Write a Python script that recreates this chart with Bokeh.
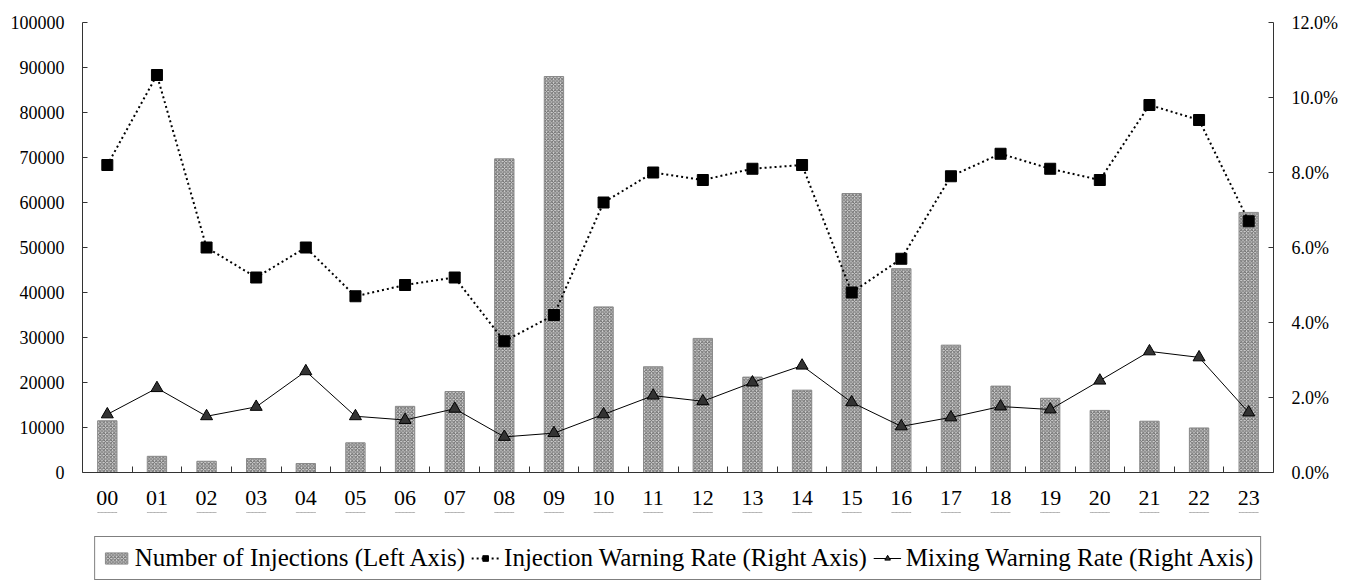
from bokeh.plotting import figure
from bokeh.layouts import column
from bokeh.models import (Range1d, LinearAxis, FixedTicker, NumeralTickFormatter,
                          Legend, LegendItem, ColumnDataSource)
from bokeh.embed import file_html
from bokeh.resources import INLINE

hours = ["00", "01", "02", "03", "04", "05", "06", "07", "08", "09", "10", "11",
         "12", "13", "14", "15", "16", "17", "18", "19", "20", "21", "22", "23"]
injections = [11500, 3600, 2500, 3100, 2000, 6600, 14700, 18000, 69700, 88000, 36800, 23500,
              29800, 21200, 18300, 62000, 45300, 28300, 19200, 16500, 13800, 11400, 9900, 57800]
injection_rate = [0.082, 0.106, 0.060, 0.052, 0.060, 0.047, 0.050, 0.052, 0.035, 0.042, 0.072, 0.080,
                  0.078, 0.081, 0.082, 0.048, 0.057, 0.079, 0.085, 0.081, 0.078, 0.098, 0.094, 0.067]
mixing_rate = [0.0155, 0.0225, 0.015, 0.0175, 0.027, 0.015, 0.014, 0.017, 0.0095, 0.0105, 0.0155, 0.0205,
               0.019, 0.024, 0.0285, 0.0187, 0.0123, 0.0147, 0.0176, 0.0168, 0.0245, 0.0323, 0.0307, 0.016]
left_ticks = list(range(0, 100001, 10000))
right_ticks = [0.0, 0.02, 0.04, 0.06, 0.08, 0.10, 0.12]
labels = ["Number of Injections (Left Axis)", "Injection Warning Rate (Right Axis)",
          "Mixing Warning Rate (Right Axis)"]

FONT = "Liberation Serif"
AX = "#333333"

x = list(range(len(hours)))
src = ColumnDataSource(dict(x=x, n=injections, inj=injection_rate, mix=mixing_rate))

p = figure(width=1355, height=512, output_backend="svg", toolbar_location=None,
           x_range=Range1d(-0.5, 23.5), y_range=Range1d(0, 100000),
           min_border_left=82, min_border_right=82, min_border_top=22, min_border_bottom=40)
p.outline_line_color = None
p.xgrid.grid_line_color = None
p.ygrid.grid_line_color = None
p.extra_y_ranges = {"rate": Range1d(0, 0.12)}

ya = p.yaxis[0]
ya.ticker = FixedTicker(ticks=left_ticks)
ya.formatter = NumeralTickFormatter(format="0")
xa = p.xaxis[0]
xa.ticker = FixedTicker(ticks=x, minor_ticks=[i + 0.5 for i in range(23)])
xa.major_label_overrides = {i: h for i, h in enumerate(hours)}
xa.major_tick_line_color = None
xa.minor_tick_in = 6
xa.minor_tick_out = 0
xa.minor_tick_line_color = AX
xa.major_label_standoff = 12
xa.major_label_text_font_size = "22px"

ra = LinearAxis(y_range_name="rate", ticker=FixedTicker(ticks=right_ticks),
                formatter=NumeralTickFormatter(format="0.0%"))
p.add_layout(ra, "right")

for ax in (ya, ra):
    ax.major_tick_in = 5
    ax.major_tick_out = 0
    ax.minor_tick_line_color = None
    ax.major_label_standoff = 18
    ax.major_label_text_font_size = "18px"
    ax.major_tick_line_color = AX
for ax in (xa, ya, ra):
    ax.axis_line_color = AX
    ax.major_label_text_font = FONT
    ax.major_label_text_color = "black"

BAR = dict(fill_color="#d6d6d6", line_color="#8a8a8a", line_width=1,
           hatch_pattern="diagonal_cross", hatch_color="#6a6a6a", hatch_scale=3.5, hatch_weight=1)
INJL = dict(line_color="black", line_width=2, line_dash="2 3")
INJP = dict(marker="square", size=11, fill_color="black", line_color="black")
MIXL = dict(line_color="black", line_width=1)
MIXP = dict(marker="triangle", size=12, fill_color="#333333", line_color="black")

p.vbar(x="x", top="n", width=0.39, source=src, **BAR)
p.line("x", "inj", source=src, y_range_name="rate", **INJL)
p.scatter("x", "inj", source=src, y_range_name="rate", **INJP)
p.line("x", "mix", source=src, y_range_name="rate", **MIXL)
p.scatter("x", "mix", source=src, y_range_name="rate", **MIXP)

# legend strip (its renderers' data lie outside its y range, so only the legend shows)
lg = figure(width=1355, height=72, output_backend="svg", toolbar_location=None,
            x_range=Range1d(-0.5, 23.5), y_range=Range1d(-1, -0.5),
            min_border_left=82, min_border_right=82, min_border_top=0, min_border_bottom=0)
lg.axis.visible = False
lg.grid.visible = False
lg.outline_line_color = None
r_bar = lg.vbar(x="x", top="n", width=0.39, source=src, **BAR)
r_il = lg.line("x", "inj", source=src, **INJL)
r_ip = lg.scatter("x", "inj", source=src, **INJP)
r_ml = lg.line("x", "mix", source=src, **MIXL)
r_mp = lg.scatter("x", "mix", source=src, **MIXP)

legend = Legend(items=[
    LegendItem(label=labels[0], renderers=[r_bar]),
    LegendItem(label=labels[1], renderers=[r_il, r_ip]),
    LegendItem(label=labels[2], renderers=[r_ml, r_mp]),
], orientation="horizontal", location="bottom_center")
legend.label_text_font = FONT
legend.label_text_font_size = "25px"
legend.label_text_color = "black"
legend.border_line_color = "black"
legend.border_line_width = 1
legend.background_fill_color = "white"
legend.background_fill_alpha = 1
legend.padding = 7
legend.spacing = 6
legend.margin = 4
legend.glyph_width = 28
legend.glyph_height = 14
legend.label_standoff = 5
legend.label_height = 26
lg.add_layout(legend, "center")

layout = column(p, lg, spacing=0)
open("out.html", "w").write(file_html(layout, INLINE))
